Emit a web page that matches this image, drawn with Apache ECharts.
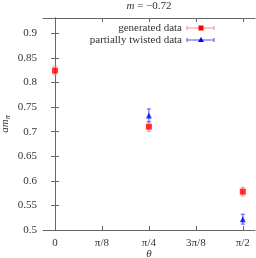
<!DOCTYPE html>
<html><head><meta charset="utf-8">
<script src="https://cdn.jsdelivr.net/npm/echarts@6/dist/echarts.min.js"></script>
<style>html,body{margin:0;padding:0;background:#fff}#c{width:256px;height:258px}</style>
</head><body><div id="c"></div>
<script>
const PI = Math.PI;
const xTickValues = [0, PI/8, PI/4, 3*PI/8, PI/2];
const xTickLabels = ['0', 'π/8', 'π/4', '3π/8', 'π/2'];
const yTickValues = [0.5, 0.55, 0.6, 0.65, 0.7, 0.75, 0.8, 0.85, 0.9];
const yTickLabels = ['0.5', '0.55', '0.6', '0.65', '0.7', '0.75', '0.8', '0.85', '0.9'];

const genTheta = [0, PI/4, PI/2];
const genValue = [0.824, 0.710, 0.578];
const genError = [0.0092, 0.0095, 0.0088];

const twTheta = [PI/4, PI/2];
const twValue = [0.733, 0.522];
const twError = [0.013, 0.010];

const SERIF = '"Liberation Serif","DejaVu Serif",serif';
const TXT = '#333';
const AX = '#666';

function pts(xs, ys, es) { return xs.map((x, i) => [x, ys[i], ys[i] - es[i], ys[i] + es[i]]); }

function errRender(color) {
  return function (params, api) {
    const x = api.value(0);
    const lo = api.coord([x, api.value(2)]);
    const hi = api.coord([x, api.value(3)]);
    const w = 2;
    const st = { stroke: color, lineWidth: 1 };
    return { type: 'group', children: [
      { type: 'line', shape: { x1: lo[0], y1: lo[1], x2: hi[0], y2: hi[1] }, style: st },
      { type: 'line', shape: { x1: lo[0]-w, y1: lo[1], x2: lo[0]+w, y2: lo[1] }, style: st },
      { type: 'line', shape: { x1: hi[0]-w, y1: hi[1], x2: hi[0]+w, y2: hi[1] }, style: st }
    ]};
  };
}

const xmin = -0.1, xmax = PI/2 + 0.102;
const ymin = 0.5, ymax = 0.931;

function xAxisDef(pos, labels) {
  return {
    type: 'value', position: pos, min: xmin, max: xmax,
    axisLine: { show: true, lineStyle: { color: AX, width: 1 } },
    axisTick: { show: true, inside: true, length: 4, customValues: xTickValues, lineStyle: { color: AX } },
    axisLabel: { show: labels, customValues: xTickValues, margin: 8, color: TXT, fontFamily: SERIF, fontSize: 11,
      formatter: v => { const i = xTickValues.findIndex(t => Math.abs(t - v) < 1e-6); return i >= 0 ? xTickLabels[i] : ''; } },
    splitLine: { show: false },
    name: labels ? 'θ' : '', nameLocation: 'middle', nameGap: 19, nameMoveOverlap: false,
    nameTextStyle: { color: TXT, fontFamily: SERIF, fontSize: 11, fontStyle: 'italic' }
  };
}
function yAxisDef(pos, labels) {
  return {
    type: 'value', position: pos, min: ymin, max: ymax,
    axisLine: { show: true, lineStyle: { color: AX, width: 1 } },
    axisTick: { show: true, inside: true, length: 4, customValues: yTickValues, lineStyle: { color: AX } },
    axisLabel: { show: labels, customValues: yTickValues, margin: 6, color: TXT, fontFamily: SERIF, fontSize: 11,
      formatter: v => { const i = yTickValues.findIndex(t => Math.abs(t - v) < 1e-6); return i >= 0 ? yTickLabels[i] : ''; } },
    splitLine: { show: false },
    name: labels ? '{a|am}{s|π}' : '', nameLocation: 'middle', nameGap: 31, nameRotate: 90, nameMoveOverlap: false,
    nameTextStyle: { color: TXT, fontFamily: SERIF, fontSize: 11,
      rich: { a: { fontFamily: SERIF, fontSize: 11, fontStyle: 'italic', color: TXT },
              s: { fontFamily: SERIF, fontSize: 8, fontStyle: 'italic', color: TXT, verticalAlign: 'bottom', padding: [6, 0, 0, 0] } } }
  };
}

const chart = echarts.init(document.getElementById('c'), null, { renderer: 'canvas' });

const genColor = '#ff0000', genErr = '#ff8a8a';
const twColor = '#0000ff', twErr = '#4455ff';

// legend geometry
const lgTextRight = 182, lgX1 = 187, lgX2 = 214, lgMid = 201, lgY1 = 28, lgY2 = 40;
function legendRow(y, label, color, errColor, symbol) {
  const st = { stroke: errColor, lineWidth: 1 };
  const items = [
    { type: 'text', x: lgTextRight, y: y, style: { text: label, fill: TXT, font: '11px ' + SERIF, align: 'right', verticalAlign: 'middle' } },
    { type: 'line', shape: { x1: lgX1, y1: y, x2: lgX2, y2: y }, style: st },
    { type: 'line', shape: { x1: lgX1, y1: y-2, x2: lgX1, y2: y+2 }, style: st },
    { type: 'line', shape: { x1: lgX2, y1: y-2, x2: lgX2, y2: y+2 }, style: st }
  ];
  if (symbol === 'rect') items.push({ type: 'rect', shape: { x: lgMid-2.5, y: y-2.5, width: 5, height: 5 }, style: { fill: color } });
  else items.push({ type: 'polygon', shape: { points: [[lgMid, y-3], [lgMid-3, y+2], [lgMid+3, y+2]] }, style: { fill: color } });
  return items;
}

chart.setOption({
  animation: false,
  backgroundColor: '#fff',
  title: { text: '{i|m} = −0.72', left: 149, textAlign: 'center', top: 0, padding: [1, 0, 0, 0],
    textStyle: { color: TXT, fontFamily: SERIF, fontSize: 11, fontWeight: 'normal',
      rich: { i: { fontFamily: SERIF, fontSize: 11, fontStyle: 'italic', color: TXT } } } },
  grid: { left: 43, right: 1, top: 18, bottom: 28, containLabel: false, outerBoundsMode: 'none' },
  xAxis: [xAxisDef('bottom', true), xAxisDef('top', false)],
  yAxis: [yAxisDef('left', true), yAxisDef('right', false)],
  graphic: [].concat(
    legendRow(lgY1, 'generated data', genColor, genErr, 'rect'),
    legendRow(lgY2, 'partially twisted data', twColor, twErr, 'tri')
  ),
  series: [
    { type: 'custom', name: 'generated data err', renderItem: errRender(genErr), data: pts(genTheta, genValue, genError), z: 2 },
    { type: 'custom', name: 'twisted err', renderItem: errRender(twErr), data: pts(twTheta, twValue, twError), z: 2 },
    { type: 'scatter', name: 'generated data', symbol: 'rect', symbolSize: 6, itemStyle: { color: genColor },
      data: genTheta.map((x, i) => [x, genValue[i]]), z: 3 },
    { type: 'scatter', name: 'partially twisted data', symbol: 'triangle', symbolSize: 6, itemStyle: { color: twColor },
      data: twTheta.map((x, i) => [x, twValue[i]]), z: 3 }
  ]
});
</script></body></html>
